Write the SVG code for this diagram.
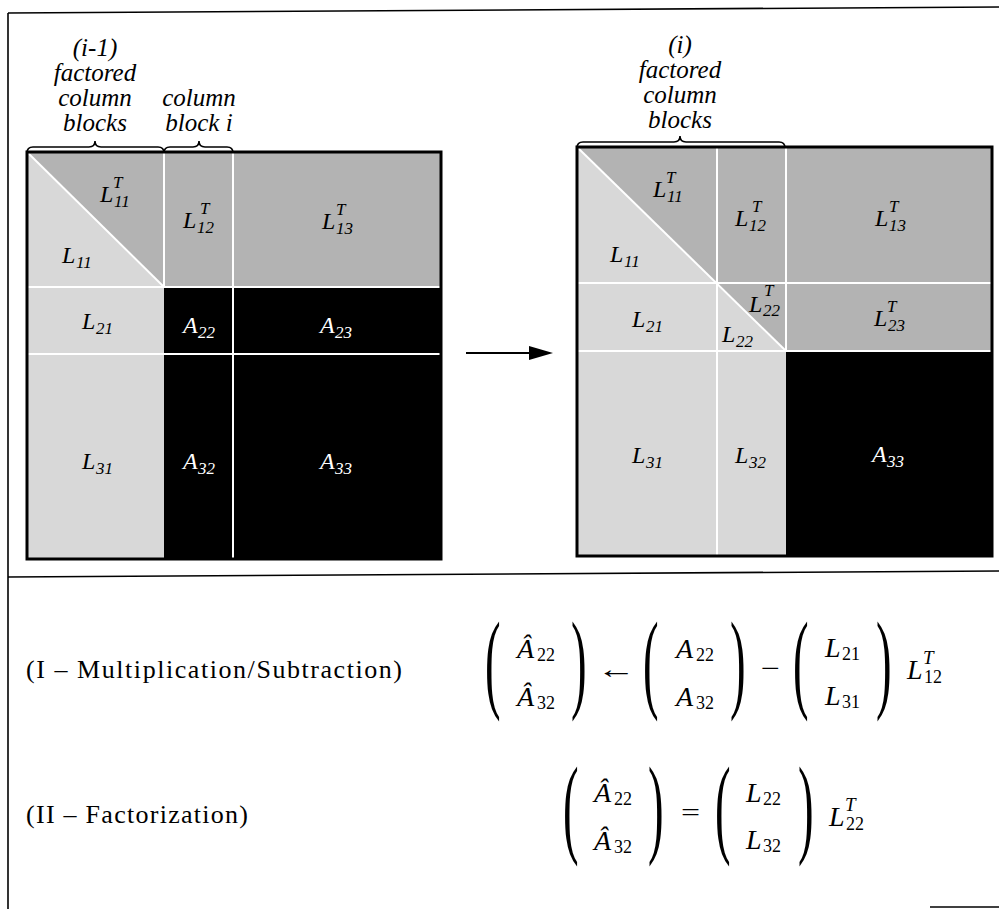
<svg xmlns="http://www.w3.org/2000/svg" width="999" height="909" viewBox="0 0 999 909">
<style>
.frame{stroke:#000;stroke-width:1.6;fill:none}
.med{fill:#b3b3b3}
.lt{fill:#d8d8d8}
.blk{fill:#000}
.wl{stroke:#fff;stroke-width:2;fill:none}
.bd{stroke:#000;stroke-width:3;fill:none}
.brace{stroke:#000;stroke-width:1.6;fill:none}
text{font-family:'Liberation Serif','DejaVu Serif',serif}
.it{font-style:italic}
.lab{font-size:24px}
.sb{font-size:17px}
.w{fill:#fff}
.hd{font-style:italic;font-size:25px;text-anchor:middle}
.rm{font-size:26px}
.mi{font-style:italic;font-size:28px}
.ms{font-size:18px}
.msi{font-style:italic;font-size:19px}
.par{font-size:36px}
</style>
<defs>
<marker id="ahb" viewBox="0 0 24 14" refX="0" refY="7" markerWidth="24" markerHeight="14" orient="auto" markerUnits="userSpaceOnUse">
<path d="M0,0 L24,7 L0,14 Z" fill="#000"/>
</marker>
</defs>

<g id="frame">
<line class="frame" x1="8" y1="13" x2="999" y2="7"/>
<line class="frame" x1="8" y1="13" x2="8" y2="909"/>
<line class="frame" x1="8" y1="577" x2="999" y2="571"/>
<line class="frame" x1="930" y1="907" x2="999" y2="907"/>
</g>

<g id="left-matrix">
<rect class="lt" x="27" y="152" width="414" height="407"/>
<polygon class="med" points="27,152 441,152 441,287 164,287"/>
<rect class="blk" x="164" y="287" width="277" height="272"/>
<line class="wl" x1="27" y1="152" x2="164" y2="287"/>
<line class="wl" x1="164" y1="152" x2="164" y2="287"/>
<line class="wl" x1="233" y1="152" x2="233" y2="559"/>
<line class="wl" x1="27" y1="287" x2="441" y2="287"/>
<line class="wl" x1="27" y1="354" x2="441" y2="354"/>
<rect class="bd" x="27" y="152" width="414" height="407"/>
</g>

<g id="left-labels" class="it">
<g id="lL11T"><text class="lab" x="100" y="202">L</text><text class="sb" x="114" y="207">11</text><text class="sb" x="113" y="188">T</text></g>
<g id="lL12T"><text class="lab" x="183" y="228">L</text><text class="sb" x="197" y="233">12</text><text class="sb" x="200" y="214">T</text></g>
<g id="lL13T"><text class="lab" x="322" y="229">L</text><text class="sb" x="336" y="234">13</text><text class="sb" x="336" y="215">T</text></g>
<g id="lL11"><text class="lab" x="62" y="263">L</text><text class="sb" x="76" y="268">11</text></g>
<g id="lL21"><text class="lab" x="82" y="329">L</text><text class="sb" x="96" y="334">21</text></g>
<g id="lA22" class="w"><text class="lab" x="183" y="333">A</text><text class="sb" x="198" y="338">22</text></g>
<g id="lA23" class="w"><text class="lab" x="320" y="333">A</text><text class="sb" x="335" y="338">23</text></g>
<g id="lL31"><text class="lab" x="82" y="469">L</text><text class="sb" x="96" y="474">31</text></g>
<g id="lA32" class="w"><text class="lab" x="183" y="469">A</text><text class="sb" x="198" y="474">32</text></g>
<g id="lA33" class="w"><text class="lab" x="320" y="469">A</text><text class="sb" x="335" y="474">33</text></g>
</g>

<g id="left-heading">
<text class="hd" x="95" y="56">(i-1)</text>
<text class="hd" x="95" y="81">factored</text>
<text class="hd" x="95" y="106">column</text>
<text class="hd" x="95" y="131">blocks</text>
<text class="hd" x="199" y="106">column</text>
<text class="hd" x="199" y="131">block i</text>
<path class="brace" d="M27,153 Q27,147 33,147 L89,147 Q95,147 95,141 Q95,147 101,147 L158,147 Q164,147 164,153"/>
<path class="brace" d="M164,153 Q164,147 170,147 L193,147 Q199,147 199,141 Q199,147 205,147 L227,147 Q233,147 233,153"/>
</g>

<g id="right-matrix">
<rect class="lt" x="577" y="147" width="415" height="409"/>
<polygon class="med" points="577,147 992,147 992,351 786,351"/>
<rect class="blk" x="786" y="351" width="206" height="205"/>
<line class="wl" x1="577" y1="147" x2="786" y2="351"/>
<line class="wl" x1="717" y1="147" x2="717" y2="556"/>
<line class="wl" x1="786" y1="147" x2="786" y2="351"/>
<line class="wl" x1="577" y1="283" x2="992" y2="283"/>
<line class="wl" x1="577" y1="351" x2="992" y2="351"/>
<rect class="bd" x="577" y="147" width="415" height="409"/>
</g>

<g id="right-labels" class="it">
<g id="rL11T"><text class="lab" x="653" y="197">L</text><text class="sb" x="667" y="202">11</text><text class="sb" x="666" y="183">T</text></g>
<g id="rL12T"><text class="lab" x="735" y="226">L</text><text class="sb" x="749" y="231">12</text><text class="sb" x="752" y="212">T</text></g>
<g id="rL13T"><text class="lab" x="875" y="226">L</text><text class="sb" x="889" y="231">13</text><text class="sb" x="889" y="212">T</text></g>
<g id="rL11"><text class="lab" x="610" y="262">L</text><text class="sb" x="624" y="267">11</text></g>
<g id="rL22T"><text class="lab" x="749" y="312">L</text><text class="sb" x="763" y="316">22</text><text class="sb" x="764" y="296">T</text></g>
<g id="rL23T"><text class="lab" x="874" y="326">L</text><text class="sb" x="888" y="331">23</text><text class="sb" x="887" y="312">T</text></g>
<g id="rL21"><text class="lab" x="632" y="327">L</text><text class="sb" x="646" y="332">21</text></g>
<g id="rL22"><text class="lab" x="722" y="342">L</text><text class="sb" x="736" y="347">22</text></g>
<g id="rL31"><text class="lab" x="632" y="463">L</text><text class="sb" x="646" y="468">31</text></g>
<g id="rL32"><text class="lab" x="735" y="463">L</text><text class="sb" x="749" y="468">32</text></g>
<g id="rA33" class="w"><text class="lab" x="872" y="462">A</text><text class="sb" x="887" y="467">33</text></g>
</g>

<g id="right-heading">
<text class="hd" x="680" y="53">(i)</text>
<text class="hd" x="680" y="78">factored</text>
<text class="hd" x="680" y="103">column</text>
<text class="hd" x="680" y="128">blocks</text>
<path class="brace" d="M577,148 Q577,142 583,142 L674,142 Q680,142 680,136 Q680,142 686,142 L779,142 Q785,142 785,148"/>
</g>

<g id="connectors">
<line x1="466" y1="353" x2="529" y2="353" stroke="#000" stroke-width="2" marker-end="url(#ahb)"/>
</g>

<g id="step-labels">
<text class="rm" x="26" y="678" textLength="376" lengthAdjust="spacing">(I – Multiplication/Subtraction)</text>
<text class="rm" x="26" y="823" textLength="222" lengthAdjust="spacing">(II – Factorization)</text>
</g>

<g id="equation-1">
<text class="par" transform="translate(485,697.5) scale(1.3,3.06)">(</text>
<text class="par" transform="translate(571,697.5) scale(1.3,3.06)">)</text>
<text class="mi" x="517" y="658">Â</text><text class="ms" x="537" y="661">22</text>
<text class="mi" x="517" y="706">Â</text><text class="ms" x="537" y="709">32</text>
<text class="rm" transform="translate(597,678) scale(1.5,1)">←</text>
<text class="par" transform="translate(643,697.5) scale(1.3,3.06)">(</text>
<text class="par" transform="translate(730,697.5) scale(1.3,3.06)">)</text>
<text class="mi" x="676" y="658">A</text><text class="ms" x="696" y="661">22</text>
<text class="mi" x="676" y="706">A</text><text class="ms" x="696" y="709">32</text>
<text class="rm" transform="translate(761,677) scale(1.3,1)">−</text>
<text class="par" transform="translate(793,697.5) scale(1.3,3.06)">(</text>
<text class="par" transform="translate(876,697.5) scale(1.3,3.06)">)</text>
<text class="mi" x="825" y="657">L</text><text class="ms" x="842" y="660">21</text>
<text class="mi" x="825" y="705">L</text><text class="ms" x="842" y="708">31</text>
<text class="mi" x="907" y="679">L</text><text class="ms" x="924" y="683">12</text><text class="msi" x="923" y="664">T</text>
</g>

<g id="equation-2">
<text class="par" transform="translate(563,842.5) scale(1.3,3.06)">(</text>
<text class="par" transform="translate(648,842.5) scale(1.3,3.06)">)</text>
<text class="mi" x="594" y="802">Â</text><text class="ms" x="614" y="805">22</text>
<text class="mi" x="594" y="850">Â</text><text class="ms" x="614" y="853">32</text>
<text class="rm" transform="translate(681,821) scale(1.3,1)">=</text>
<text class="par" transform="translate(715,842.5) scale(1.3,3.06)">(</text>
<text class="par" transform="translate(798,842.5) scale(1.3,3.06)">)</text>
<text class="mi" x="746" y="802">L</text><text class="ms" x="763" y="805">22</text>
<text class="mi" x="746" y="849">L</text><text class="ms" x="763" y="852">32</text>
<text class="mi" x="829" y="826">L</text><text class="ms" x="846" y="830">22</text><text class="msi" x="845" y="811">T</text>
</g>
</svg>
